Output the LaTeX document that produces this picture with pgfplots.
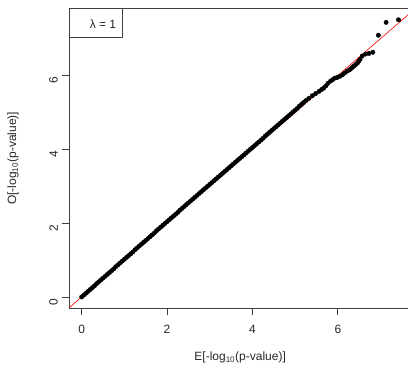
\documentclass[border=0pt]{standalone}
\usepackage{fontspec}
\setmainfont{Liberation Sans}
\usepackage{pgfplots}
\pgfplotsset{compat=1.18}
\pgfplotstableread{
x y
0.00 0.00
0.05 0.05
0.10 0.10
0.15 0.15
0.20 0.20
0.25 0.25
0.30 0.30
0.35 0.36
0.40 0.41
0.45 0.46
0.50 0.51
0.55 0.56
0.60 0.61
0.65 0.66
0.70 0.71
0.75 0.76
0.80 0.82
0.85 0.87
0.90 0.92
0.95 0.97
1.00 1.02
1.05 1.07
1.10 1.12
1.15 1.17
1.20 1.22
1.25 1.28
1.30 1.33
1.35 1.38
1.40 1.43
1.45 1.48
1.50 1.53
1.55 1.58
1.60 1.63
1.65 1.68
1.70 1.73
1.75 1.79
1.80 1.84
1.85 1.89
1.90 1.94
1.95 1.99
2.00 2.04
2.05 2.09
2.10 2.14
2.15 2.19
2.20 2.24
2.25 2.29
2.30 2.35
2.35 2.40
2.40 2.45
2.45 2.50
2.50 2.55
2.55 2.60
2.60 2.65
2.65 2.70
2.70 2.75
2.75 2.80
2.80 2.85
2.85 2.90
2.90 2.95
2.95 3.00
3.00 3.05
3.05 3.10
3.10 3.15
3.15 3.20
3.20 3.25
3.25 3.30
3.30 3.35
3.35 3.40
3.40 3.45
3.45 3.50
3.50 3.55
3.55 3.60
3.60 3.65
3.65 3.70
3.70 3.75
3.75 3.80
3.80 3.85
3.85 3.90
3.90 3.95
3.95 4.00
4.00 4.05
4.05 4.10
4.10 4.15
4.15 4.20
4.20 4.25
4.25 4.30
4.30 4.36
4.35 4.41
4.40 4.46
4.45 4.51
4.50 4.56
4.55 4.61
4.60 4.66
4.65 4.71
4.70 4.76
4.75 4.81
4.80 4.86
4.85 4.91
4.90 4.96
4.95 5.01
5.00 5.06
5.05 5.11
5.10 5.17
5.15 5.22
5.20 5.27
5.25 5.32
5.32 5.38
5.40 5.45
5.48 5.51
5.56 5.57
5.62 5.62
5.67 5.66
5.72 5.72
5.77 5.79
5.83 5.85
5.88 5.89
5.93 5.93
5.99 5.95
6.05 5.98
6.11 6.02
6.16 6.07
6.22 6.12
6.27 6.15
6.30 6.18
6.34 6.22
6.38 6.26
6.42 6.30
6.46 6.34
6.49 6.39
6.52 6.44
6.57 6.53
6.65 6.58
6.73 6.60
6.82 6.63
6.95 7.09
7.13 7.44
7.42 7.51
}\qqdata
\begin{document}
\fontsize{12}{14}\selectfont
\begin{tikzpicture}
\path[use as bounding box] (-69pt,-64pt) rectangle (339pt,308pt);
\begin{axis}[
  at={(0pt,0pt)}, anchor=south west,
  scale only axis, width=342.3pt, height=299.3pt,
  xmin=-0.297, xmax=7.72, ymin=-0.30, ymax=7.81,
  xtick={0,2,4,6}, ytick={0,2,4,6},
  tick align=outside, xtick pos=bottom, ytick pos=left,
  major tick length=7pt,
  axis line style={black!75, line width=0.8pt},
  every tick/.style={black!75, line width=0.8pt},
  /pgf/number format/assume math mode=true,
  ticklabel style={font=\fontsize{12}{14}\selectfont, text=black!85},
  xticklabel style={yshift=-6pt},
  yticklabel style={rotate=90, anchor=south, xshift=-5pt},
  xlabel={E[-log\textsubscript{10}(p-value)]},
  ylabel={O[-log\textsubscript{10}(p-value)]},
  label style={font=\fontsize{12}{14}\selectfont, text=black!85},
  xlabel style={at={(axis description cs:0.5,-0.166)}, anchor=center},
  ylabel style={at={(axis description cs:-0.1636,0.5)}, anchor=center},
]
\addplot[only marks, mark=*, mark size=2.2pt, black] table {\qqdata};
\addplot[red, line width=0.6pt] coordinates {(-1,-1) (9,9)};
\draw[black!75, line width=0.8pt] (rel axis cs:0,1) rectangle ++(53.3pt,-28.9pt);
\node[text=black!85, font=\fontsize{12}{14}\selectfont] at (rel axis cs:0,1) [xshift=34pt, yshift=-15.5pt] {λ = 1};
\end{axis}
\end{tikzpicture}
\end{document}
